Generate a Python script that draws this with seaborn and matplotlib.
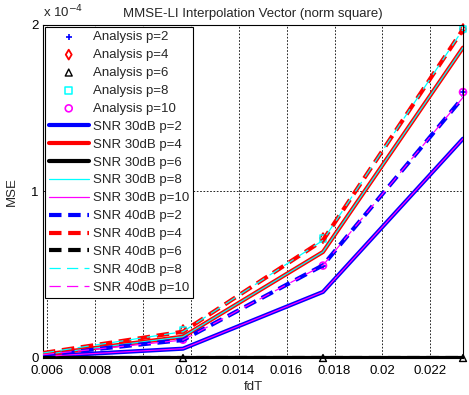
import numpy as np
import pandas as pd
import matplotlib
matplotlib.use("Agg")
import matplotlib.pyplot as plt
import seaborn as sns

# ---- data (MSE in units of 1e-4) ----
fdT = [0.00584, 0.01168, 0.01752, 0.02336]
fdT_analysis = [0.01168, 0.01752, 0.02336]

snr30_p2 = [0.010, 0.056, 0.397, 1.317]
snr30_p4 = [0.020, 0.128, 0.637, 1.864]
snr30_p6 = [0.0, 0.0, 0.0, 0.0]
snr30_p8 = [0.020, 0.128, 0.637, 1.864]
snr30_p10 = [0.010, 0.056, 0.397, 1.317]
snr40_p2 = [0.020, 0.108, 0.557, 1.565]
snr40_p4 = [0.030, 0.158, 0.707, 1.974]
snr40_p6 = [0.0, 0.0, 0.0, 0.0]
snr40_p8 = [0.030, 0.158, 0.707, 1.974]
snr40_p10 = [0.020, 0.108, 0.557, 1.565]

ana_p2 = [0.110, 0.555, 1.597]
ana_p4 = [0.168, 0.720, 1.976]
ana_p6 = [0.0, 0.0, 0.0]
ana_p8 = [0.168, 0.720, 1.976]
ana_p10 = [0.110, 0.555, 1.597]

yticks = [0, 1, 2]
xticks = [0.006, 0.008, 0.01, 0.012, 0.014, 0.016, 0.018, 0.02, 0.022]
xtick_labels = ["0.006", "0.008", "0.01", "0.012", "0.014", "0.016", "0.018", "0.02", "0.022"]

sns.set_style("white")
plt.rcParams['font.family'] = ['Liberation Sans', 'DejaVu Sans']

fig = plt.figure(figsize=(4.69, 3.95), dpi=100)
ax = fig.add_axes([43/469, 1-358/395, 420/469, 333/395])

scale = 1e-4
analysis = [
    ("Analysis p=2", ana_p2, 2.5, dict(marker='+', color='blue', facecolor='blue', s=25, linewidths=1.2)),
    ("Analysis p=4", ana_p4, 2.5, dict(marker='d', edgecolor='red', facecolor='none', s=25, linewidths=1.3)),
    ("Analysis p=6", ana_p6, 5, dict(marker='^', edgecolor='black', facecolor='none', s=25, linewidths=1.0)),
    ("Analysis p=8", ana_p8, 2.5, dict(marker='s', edgecolor='cyan', facecolor='none', s=25, linewidths=1.1)),
    ("Analysis p=10", ana_p10, 2.5, dict(marker='o', edgecolor='magenta', facecolor='none', s=25, linewidths=1.2)),
]
for lab, vals, z, st in analysis:
    df = pd.DataFrame({"x": fdT_analysis, "y": np.array(vals) * scale})
    sns.scatterplot(data=df, x="x", y="y", ax=ax, label=lab,
                    clip_on=False, zorder=z, **st)

lines = [
    ("SNR 30dB p=2", snr30_p2, 'blue', 3.0, '-'),
    ("SNR 30dB p=4", snr30_p4, 'red', 3.0, '-'),
    ("SNR 30dB p=6", snr30_p6, 'black', 3.0, '-'),
    ("SNR 30dB p=8", snr30_p8, 'cyan', 0.9, '-'),
    ("SNR 30dB p=10", snr30_p10, 'magenta', 0.9, '-'),
    ("SNR 40dB p=2", snr40_p2, 'blue', 3.0, (0, (3, 1.6))),
    ("SNR 40dB p=4", snr40_p4, 'red', 3.0, (0, (3, 1.6))),
    ("SNR 40dB p=6", snr40_p6, 'black', 3.0, (0, (3, 1.6))),
    ("SNR 40dB p=8", snr40_p8, 'cyan', 0.9, (0, (9, 5))),
    ("SNR 40dB p=10", snr40_p10, 'magenta', 0.9, (0, (9, 5))),
]
for lab, vals, c, lw, ls in lines:
    df = pd.DataFrame({"x": fdT, "y": np.array(vals) * scale})
    sns.lineplot(data=df, x="x", y="y", ax=ax, color=c, lw=lw, linestyle=ls,
                 label=lab, zorder=3)

ax.set_xlim(fdT[0], fdT[-1])
ax.set_ylim(0, 2 * scale)
ax.set_xticks(xticks)
ax.set_xticklabels(xtick_labels)
ax.set_yticks(np.array(yticks) * scale)
ax.set_yticklabels([str(v) for v in yticks])
ax.tick_params(direction='in', length=4, labelsize=9.5, colors='black', width=0.6)
ax.tick_params(axis='x', pad=5)
ax.tick_params(axis='y', pad=3)
ax.grid(True, linestyle=(0, (2, 2)), color='black', linewidth=0.6)
for s in ax.spines.values():
    s.set_visible(True)
    s.set_color('black')
    s.set_linewidth(0.8)

ax.set_xlabel("fdT", fontsize=9.5, labelpad=3)
ax.set_ylabel("MSE", fontsize=9.5, labelpad=10)
ax.set_title("MMSE-LI Interpolation Vector (norm square)", fontsize=9.5, pad=6)
ax.text(0.0, 1.015, r"x 10$^{-4}$", transform=ax.transAxes, fontsize=9.5,
        ha='left', va='bottom')

leg = ax.legend(loc='upper left', fontsize=9.5, frameon=True, fancybox=False,
                edgecolor='black', framealpha=1, handlelength=3.0,
                labelspacing=0.43, borderpad=0.3, borderaxespad=0.15,
                handletextpad=0.35)
leg.get_frame().set_linewidth(0.8)
leg.set_zorder(10)

fig.savefig("out.png", dpi=100)
